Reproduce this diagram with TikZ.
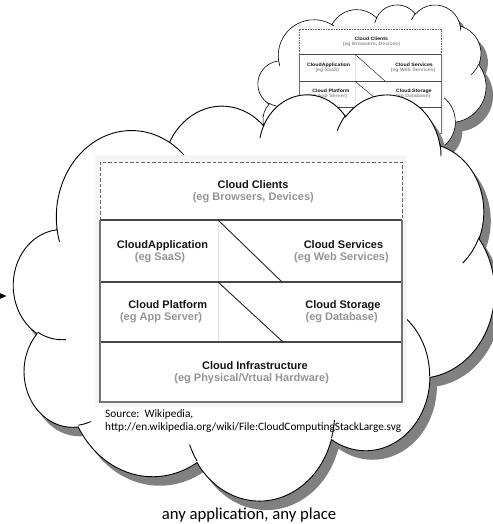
\documentclass[tikz,border=0pt]{standalone}
\usepackage{fontspec}
\setmainfont{Carlito}
\newfontfamily\stackfont{Liberation Sans}
\usetikzlibrary{arrows.meta}

% Elliptical arc of the cloud outline, given as radii (wR, hR), start angle and
% sweep of the point seen from the centre (y pointing down). Stores the
% parametric start angle and sweep for TikZ (y pointing up).
\newcommand\cldprep[5]{%
  \pgfmathparse{atan2((#2)*sin(#4),(#3)*cos(#4))}\let\cldtmpa\pgfmathresult
  \pgfmathparse{atan2((#2)*sin((#4)+(#5)),(#3)*cos((#4)+(#5)))}\let\cldtmpb\pgfmathresult
  \pgfmathparse{\cldtmpb-\cldtmpa}\let\cldtmpd\pgfmathresult
  \pgfmathparse{\cldtmpd+360*round(((#5)-\cldtmpd)/360)}\let\cldtmpd\pgfmathresult
  \pgfmathparse{0-(\cldtmpa)}\expandafter\xdef\csname cldS#1\endcsname{\pgfmathresult}%
  \pgfmathparse{0-(\cldtmpd)}\expandafter\xdef\csname cldD#1\endcsname{\pgfmathresult}%
}
% outline bumps
\cldprep{A}{6.753}{9.190}{-190.48748}{123.78053}
\cldprep{B}{5.333}{7.267}{-144.10238}{89.94523}
\cldprep{C}{4.365}{5.945}{-145.80792}{99.72302}
\cldprep{D}{4.857}{6.595}{-130.98607}{117.24173}
\cldprep{E}{5.333}{7.273}{-78.70888}{109.02692}
\cldprep{F}{6.775}{9.220}{-46.26725}{130.269}
\cldprep{G}{5.785}{7.867}{0.62502}{114.03333}
\cldprep{H}{6.752}{9.215}{22.4516}{115.17255}
\cldprep{I}{7.720}{10.543}{66.24263}{75.71102}
\cldprep{J}{4.360}{5.918}{-274.94208}{146.73557}
\cldprep{K}{4.345}{5.945}{-246.8285}{152.51885}
% inner seams between bumps
\cldprep{a}{4.345}{5.945}{86.742}{26.4295}
\cldprep{b}{4.360}{5.918}{73.61047}{11.44747}
\cldprep{c}{6.752}{9.215}{137.62415}{14.0811}
\cldprep{d}{6.752}{9.215}{6.45327}{15.99835}
\cldprep{e}{5.785}{7.867}{-70.29235}{70.91737}
\cldprep{f}{5.333}{7.273}{30.31803}{27.7515}
\cldprep{g}{4.857}{6.595}{-13.74433}{14.8589}
\cldprep{h}{4.857}{6.595}{-149.18145}{18.19537}
\cldprep{i}{4.365}{5.945}{-163.49427}{17.68635}
\cldprep{j}{6.753}{9.190}{-66.70695}{12.31935}
\cldprep{k}{6.753}{9.190}{157.65435}{11.85817}

\newcommand\cldarc[3]{arc[x radius=#1pt,y radius=#2pt,start angle=\csname cldS#3\endcsname,delta angle=\csname cldD#3\endcsname]}

\newcommand\cldoutline{(3.900,14.370)
  \cldarc{6.753}{9.190}{A} \cldarc{5.333}{7.267}{B} \cldarc{4.365}{5.945}{C}
  \cldarc{4.857}{6.595}{D} \cldarc{5.333}{7.273}{E} \cldarc{6.775}{9.220}{F}
  \cldarc{5.785}{7.867}{G} \cldarc{6.752}{9.215}{H} \cldarc{7.720}{10.543}{I}
  \cldarc{4.360}{5.918}{J} \cldarc{4.345}{5.945}{K} -- cycle}

\newcommand\cldseams{%
  (4.693,26.177) \cldarc{4.345}{5.945}{a}
  (6.928,34.899) \cldarc{4.360}{5.918}{b}
  (16.478,39.090) \cldarc{6.752}{9.215}{c}
  (28.827,34.751) \cldarc{6.752}{9.215}{d}
  (34.129,22.954) \cldarc{5.785}{7.867}{e}
  (41.798,15.354) \cldarc{5.333}{7.273}{f}
  (38.324,5.426) \cldarc{4.857}{6.595}{g}
  (29.078,3.952) \cldarc{4.857}{6.595}{h}
  (22.141,4.720) \cldarc{4.365}{5.945}{i}
  (14.000,5.192) \cldarc{6.753}{9.190}{j}
  (4.127,15.789) \cldarc{6.753}{9.190}{k}}

% cloud with drop shadow: left, top, x scale, y scale (per 1000 units)
\newcommand\drawcloud[4]{%
  \begin{scope}[shift={(#1+\cldshx,#2+\cldshy)},xscale=#3,yscale=#4]
    \fill[cloudshadow] \cldoutline;
  \end{scope}
  \begin{scope}[shift={(#1,#2)},xscale=#3,yscale=#4]
    \filldraw[cloudbody] \cldoutline;
    \draw[cloudseam] \cldseams;
  \end{scope}}
\newcommand\cldshx{7}
\newcommand\cldshy{9}

% cloud computing stack, local frame 302 x 240
\newcommand\stackdiagram{%
  \fill[stkback] (-5,-7) rectangle (307,245);
  \fill[white] (0,0) rectangle (302,240);
  \draw[stkfaint] (118,58) -- (118,180);
  \draw[stkdash] (0,58) -- (0,0) -- (302,0) -- (302,58);
  \draw[stkrow] (0,58) -- (302,58) (0,120) -- (302,120) (0,180) -- (302,180);
  \draw[stkframe] (0,58) -- (0,240) -- (302,240) -- (302,58);
  \draw[stkdiag] (118,58) -- (182,120) (118,120) -- (183,180);
  \node[stktitle] (clients) at (153,26) {Cloud Clients};
  \node[stksub] (clientsx) at (153.3,38.5) {(eg Browsers, Devices)};
  \node[stktitle] (app) at (62.5,86.3) {CloudApplication};
  \node[stksub] (appx) at (60,98.7) {(eg SaaS)};
  \node[stktitle] (services) at (243.5,86.3) {Cloud Services};
  \node[stksub] (servicesx) at (241.5,98.7) {(eg Web Services)};
  \node[stktitle] (platform) at (67.7,146.3) {Cloud Platform};
  \node[stksub] (platformx) at (61,158.7) {(eg App Server)};
  \node[stktitle] (storage) at (243,146.3) {Cloud Storage};
  \node[stksub] (storagex) at (241.7,158.7) {(eg Database)};
  \node[stktitle] (infra) at (155,207) {Cloud Infrastructure};
  \node[stksub] (infrax) at (151.7,219.3) {(eg Physical/Vrtual Hardware)};
}

\tikzset{
  cloudshadow/.style={fill=black!50},
  cloudbody/.style={fill=white, draw=black, line width=0.9pt},
  cloudseam/.style={draw=black, line width=0.9pt},
  stkback/.style={fill=black!4},
  stkfaint/.style={draw=black!12, line width=0.6pt},
  stkdash/.style={draw=black!60, line width=1pt, dash pattern=on 3.5pt off 2pt},
  stkrow/.style={draw=black!72, line width=1.1pt},
  stkframe/.style={draw=black!55, line width=1.4pt},
  stkdiag/.style={draw=black!85, line width=0.9pt},
  stktitle/.style={anchor=base, inner sep=0pt, text=black!92,
    font=\stackfont\bfseries\fontsize{11}{13}\selectfont},
  stksub/.style={stktitle, text=black!42},
  notetext/.style={anchor=base west, inner sep=0pt,
    font=\fontsize{11.3}{13}\selectfont},
  captiontext/.style={anchor=base, inner sep=0pt,
    font=\fontsize{16.7}{20}\selectfont},
}

\begin{document}
\begin{tikzpicture}[x=1pt,y=-1pt]
  \fill[white] (0,0) rectangle (492,524);
  \useasboundingbox (0,0) rectangle (492,524);

  % small cloud in the back
  \begin{scope}[cloudbody/.append style={line width=0.6pt},
      cloudseam/.append style={line width=0.6pt}]
    \drawcloud{258}{4.4}{5.278}{3.9}
  \end{scope}
  \begin{scope}[shift={(299,29)}, xscale=0.4725, yscale=0.433, transform shape,
      name prefix=small-,
      stkrow/.append style={line width=0.5pt},
      stkframe/.append style={line width=0.6pt},
      stkdiag/.append style={line width=0.45pt},
      stkfaint/.append style={line width=0.3pt},
      stkdash/.append style={line width=0.5pt, dash pattern=on 1.6pt off 1pt}]
    \stackdiagram
  \end{scope}

  % large cloud in front
  \drawcloud{13.6}{93.5}{11.13}{9.4}
  \begin{scope}[shift={(100,162)}, name prefix=big-]
    \stackdiagram
  \end{scope}
  \node[notetext] (source) at (105,417.5) {Source:\ \ Wikipedia,};
  \node[notetext] (url) at (105,430.5) {http://en.wikipedia.org/wiki/File:CloudComputingStackLarge.svg};

  \node[captiontext] (caption) at (249,519) {any application, any place};

  % arrow entering from the left
  \coordinate (arrowtail) at (-20,296);
  \coordinate (arrowtip) at (6.5,296);
  \draw[line width=0.8pt, -{Triangle[length=9pt,width=7.5pt]}] (arrowtail) -- (arrowtip);
\end{tikzpicture}
\end{document}
